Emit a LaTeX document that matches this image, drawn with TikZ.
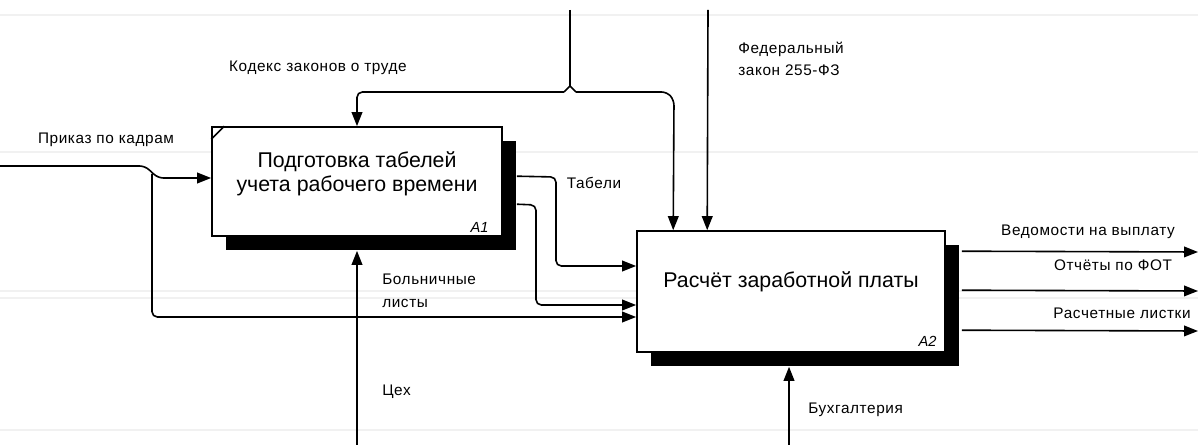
\documentclass[tikz,border=0pt]{standalone}
\usepackage{fontspec}
\setmainfont{Liberation Sans}
\newfontfamily\idefsans[LetterSpace=4]{Liberation Sans}
\usetikzlibrary{arrows.meta,positioning,calc,shadows,backgrounds}
\definecolor{scanline}{RGB}{241,241,241}
\tikzset{
  actbox/.style={draw=black, fill=white, line width=1.2pt, inner sep=0pt,
                 drop shadow={shadow xshift=10.5pt, shadow yshift=-10.5pt, fill=black, opacity=1}},
  boxtext/.style={align=center, inner sep=0pt, font=\fontsize{16}{18}\selectfont},
  boxid/.style={inner sep=0pt, font=\fontsize{11}{12}\selectfont\itshape},
  lbl/.style={inner sep=0pt, align=left, font=\idefsans\fontsize{11.5}{17}\selectfont},
  flow/.style={-{Triangle[length=10.5pt,width=8pt]}, line width=1.2pt, draw=black, rounded corners=4pt},
  wire/.style={line width=1.2pt, draw=black, rounded corners=4pt},
}
\begin{document}
\begin{tikzpicture}[x=0.75pt, y=-0.75pt]
    \useasboundingbox (0,0) rectangle (1198,445);
    \foreach \yy in {15,152,291,298,430}
      \draw[scanline, line width=1.5pt] (0,\yy) -- (1198,\yy);
    \node[actbox, minimum width=217.5pt, minimum height=81.75pt] (a1) at (357,181.5) {};
    \node[actbox, minimum width=231pt, minimum height=90.75pt] (a2) at (791,291.5) {};
    \draw[line width=1.2pt] ($(a1.north west)+(0,13)$) -- ($(a1.north west)+(13,0)$);
    \node[boxtext] (a1t) at ($(a1.center)+(0,-8)$) {Подготовка табелей\\учета рабочего времени};
    \node[boxtext] (a2t) at ($(a2.center)+(0,-10)$) {Расчёт заработной платы};
    \node[boxid, anchor=south east] (a1id) at ($(a1.south east)+(-14,-4)$) {A1};
    \node[boxid, anchor=south east] (a2id) at ($(a2.south east)+(-9,-6)$) {A2};

    \coordinate (prikaz) at (0,166);
    \coordinate (kodeks) at (570,10);
    \coordinate (fedzak) at (708,10);
    \coordinate (tseh) at (357,445);
    \coordinate (buh) at (789,445);
    \coordinate (out1) at (1198,252);
    \coordinate (out2) at (1198,291);
    \coordinate (out3) at (1198,331);

    \draw[flow] (prikaz) -- (145,166) -- (158,178) -- ($(a1.west)+(0,-3.5)$);
    \draw[flow] (152,174) -- (152,317) -- ($(a2.west)+(0,25.5)$);
    \draw[flow] ($(a1.north east)+(14,50)$) -- (556,177) -- (556,266) -- ($(a2.west)+(0,-25.5)$);
    \draw[flow] ($(a1.north east)+(14,78)$) -- (536,205) -- (536,305) -- ($(a2.west)+(0,13.5)$);
    \draw[wire] (kodeks) -- (570,86);
    \draw[flow] (564,92) -- (357,92) -- (a1.north);
    \draw[flow] (576,92) -- (667,92) -- (674,100) -- ($(a2.north west)+(37,0)$);
    \draw[line width=1.2pt] (564,92) -- (570,86) -- (576,92);
    \draw[flow] (fedzak) -- ($(a2.north west)+(71,0)$);
    \draw[flow] (tseh) -- ($(a1.south)+(0,14)$);
    \draw[flow] (buh) -- ($(a2.south)+(-2,14)$);
    \draw[flow] ($(a2.north east)+(16,21)$) -- (out1);
    \draw[flow] ($(a2.north east)+(16,60)$) -- (out2);
    \draw[flow] ($(a2.north east)+(16,100)$) -- (out3);

    \node[lbl] (lkodeks) at (318,68) {Кодекс законов о труде};
    \node[lbl] (lprikaz) at (106,140) {Приказ по кадрам};
    \node[lbl] (ltabeli) at (594,183) {Табели};
    \node[lbl, anchor=west] (lfed) at (738,59) {Федеральный\\закон 255-ФЗ};
    \node[lbl, anchor=west] (lboln) at (382,291) {Больничные\\листы};
    \node[lbl, anchor=west] (ltseh) at (382,392) {Цех};
    \node[lbl, anchor=west] (lbuh) at (808,410) {Бухгалтерия};
    \node[lbl] (lved) at (1088,232) {Ведомости на выплату};
    \node[lbl] (lotch) at (1113,265) {Отчёты по ФОТ};
    \node[lbl] (lrasch) at (1122,313) {Расчетные листки};
\end{tikzpicture}
\end{document}
